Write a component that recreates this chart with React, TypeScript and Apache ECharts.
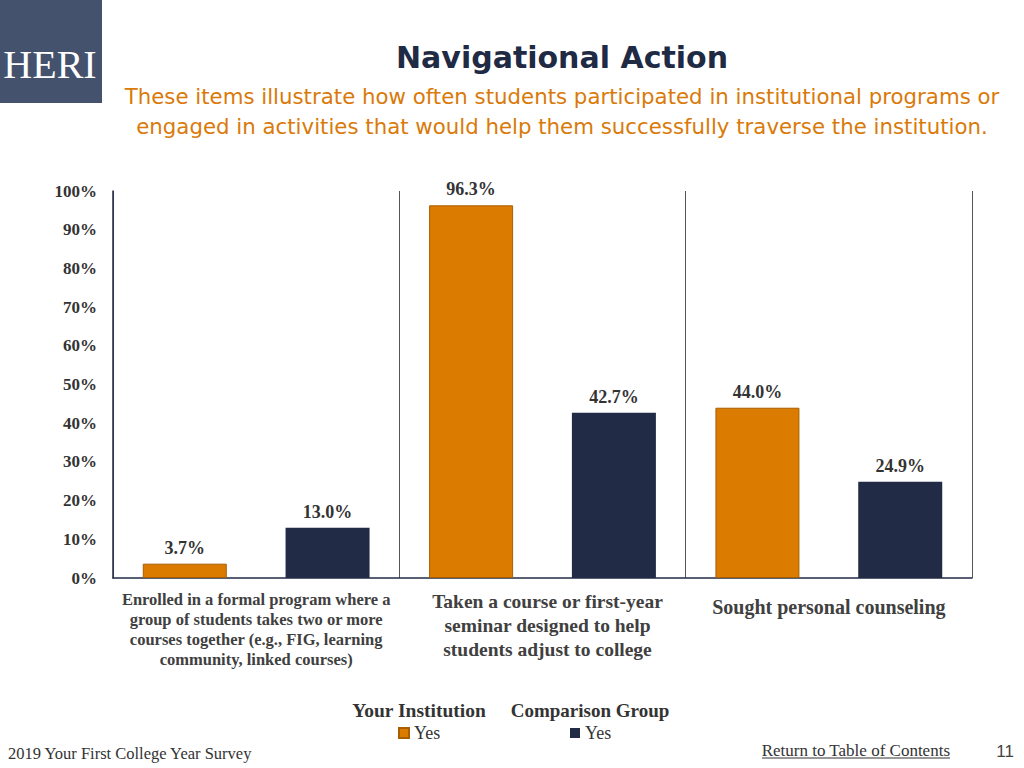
import React, { useEffect, useRef } from "react";
import * as echarts from "echarts";

const categories = [
  "Enrolled in a formal program where a\ngroup of students takes two or more\ncourses together (e.g., FIG, learning\ncommunity, linked courses)",
  "Taken a course or first-year\nseminar designed to help\nstudents adjust to college",
  "Sought personal counseling",
];
const institutionValues = [3.7, 96.3, 44.0];
const comparisonValues = [13.0, 42.7, 24.9];
const seriesNames = ["Your Institution", "Comparison Group"];
const legendItemLabel = "Yes";
const yTicks = { min: 0, max: 100, interval: 10 };

const ORANGE = "#DB7B00";
const NAVY = "#222B45";
const SERIF = "'Liberation Serif', 'DejaVu Serif', serif";
const SANS = "'DejaVu Sans', 'Liberation Sans', sans-serif";

export default function App() {
  const ref = useRef<HTMLDivElement>(null);
  useEffect(() => {
    if (!ref.current) return;
    const chart = echarts.init(ref.current, undefined, { renderer: "svg" });
    const labelStyle = {
      show: true,
      position: "top",
      distance: 7,
      fontFamily: SERIF,
      fontWeight: "bold",
      fontSize: 18,
      color: "#333333",
      formatter: (p: any) => `${Number(p.value).toFixed(1)}%`,
    };
    const legendText = { fontFamily: SERIF, fontSize: 18, color: "#333333" };
    chart.setOption({
      animation: false,
      backgroundColor: "#ffffff",
      grid: { left: 113, right: 52, top: 191, bottom: 190, containLabel: false },
      xAxis: {
        type: "category",
        data: categories.map((c, i) => ({
          value: c,
          textStyle:
            i === 0
              ? { fontSize: 16.5, lineHeight: 20 }
              : i === 1
              ? { fontSize: 19.5, lineHeight: 24, padding: [0, 0, 0, 10] }
              : { fontSize: 20, lineHeight: 24, padding: [6, 0, 0, 0] },
        })),
        axisLine: { show: true, lineStyle: { color: NAVY, width: 1.5 } },
        axisTick: { show: false },
        splitLine: { show: true, interval: 0, lineStyle: { color: "#555555", width: 1 } },
        axisLabel: {
          interval: 0,
          margin: 11,
          fontFamily: SERIF,
          fontWeight: "bold",
          color: "#404040",
          align: "center",
          verticalAlign: "top",
        },
      },
      yAxis: {
        type: "value",
        min: yTicks.min,
        max: yTicks.max,
        interval: yTicks.interval,
        axisLine: { show: true, lineStyle: { color: NAVY, width: 1.5 } },
        axisTick: { show: false },
        splitLine: { show: false },
        axisLabel: {
          margin: 16,
          formatter: "{value}%",
          fontFamily: SERIF,
          fontWeight: "bold",
          fontSize: 17,
          color: "#333333",
        },
      },
      legend: [
        {
          data: [seriesNames[0]],
          left: 398,
          top: 724,
          padding: 0,
          icon: "rect",
          itemWidth: 10,
          itemHeight: 10,
          selectedMode: false,
          formatter: () => legendItemLabel,
          textStyle: legendText,
        },
        {
          data: [seriesNames[1]],
          left: 570,
          top: 724,
          padding: 0,
          icon: "rect",
          itemWidth: 10,
          itemHeight: 10,
          selectedMode: false,
          formatter: () => legendItemLabel,
          textStyle: legendText,
        },
      ],
      series: [
        {
          name: seriesNames[0],
          type: "bar",
          data: institutionValues,
          barWidth: 84,
          barGap: "70%",
          itemStyle: { color: ORANGE, borderColor: "#A85E00", borderWidth: 1 },
          label: labelStyle,
        },
        {
          name: seriesNames[1],
          type: "bar",
          data: comparisonValues,
          barWidth: 84,
          itemStyle: { color: NAVY },
          label: labelStyle,
        },
      ],
      graphic: [
        { type: "rect", shape: { x: 0, y: 0, width: 102, height: 103 }, style: { fill: "#44526E" } },
        {
          type: "text",
          x: 50,
          y: 64,
          style: {
            text: "HERI",
            fill: "#ffffff",
            font: `40px ${SERIF}`,
            textAlign: "center",
            textVerticalAlign: "middle",
          },
        },
        {
          type: "text",
          x: 562,
          y: 57,
          style: {
            text: "Navigational Action",
            fill: "#1F2A44",
            font: `bold 30px ${SANS}`,
            textAlign: "center",
            textVerticalAlign: "middle",
          },
        },
        {
          type: "text",
          x: 562,
          y: 96,
          style: {
            text: "These items illustrate how often students participated in institutional programs or",
            fill: "#D97A0A",
            font: `21.3px ${SANS}`,
            textAlign: "center",
            textVerticalAlign: "middle",
          },
        },
        {
          type: "text",
          x: 562,
          y: 126,
          style: {
            text: "engaged in activities that would help them successfully traverse the institution.",
            fill: "#D97A0A",
            font: `21.3px ${SANS}`,
            textAlign: "center",
            textVerticalAlign: "middle",
          },
        },
        {
          type: "text",
          x: 419,
          y: 710,
          style: {
            text: seriesNames[0],
            fill: "#333333",
            font: `bold 19.5px ${SERIF}`,
            textAlign: "center",
            textVerticalAlign: "middle",
          },
        },
        {
          type: "text",
          x: 590,
          y: 710,
          style: {
            text: seriesNames[1],
            fill: "#333333",
            font: `bold 19px ${SERIF}`,
            textAlign: "center",
            textVerticalAlign: "middle",
          },
        },
        {
          type: "text",
          x: 8,
          y: 753,
          style: {
            text: "2019 Your First College Year Survey",
            fill: "#333333",
            font: `16.5px ${SERIF}`,
            textAlign: "left",
            textVerticalAlign: "middle",
          },
        },
        {
          type: "text",
          x: 950,
          y: 750,
          style: {
            text: "Return to Table of Contents",
            fill: "#333333",
            font: `17px ${SERIF}`,
            textAlign: "right",
            textVerticalAlign: "middle",
          },
        },
        {
          type: "line",
          shape: { x1: 762, y1: 758, x2: 950, y2: 758 },
          style: { stroke: "#333333", lineWidth: 1 },
        },
        {
          type: "text",
          x: 1014,
          y: 751,
          style: {
            text: "11",
            fill: "#444444",
            font: `17px 'Liberation Sans', sans-serif`,
            textAlign: "right",
            textVerticalAlign: "middle",
          },
        },
      ],
    });
    return () => chart.dispose();
  }, []);
  return (
    <div
      ref={ref}
      style={{ position: "absolute", left: 0, top: 0, width: 1024, height: 768 }}
    />
  );
}
